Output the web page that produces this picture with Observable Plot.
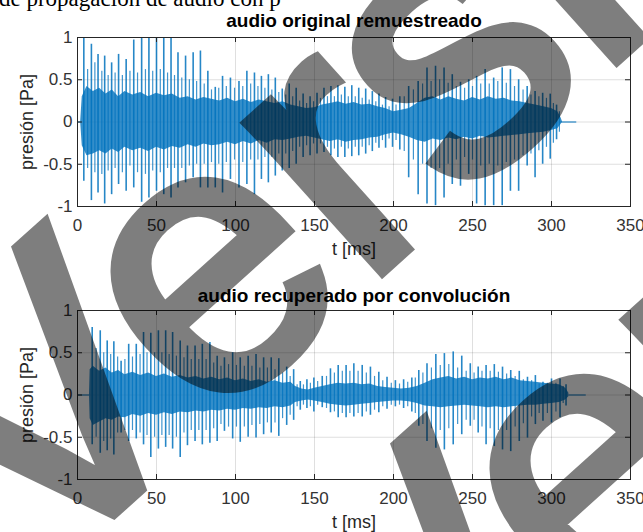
<!DOCTYPE html>
<html>
<head>
<meta charset="utf-8">
<script src="https://cdn.jsdelivr.net/npm/d3@7"></script>
<script src="https://cdn.jsdelivr.net/npm/@observablehq/plot@0.6"></script>
<style>
html, body { margin: 0; padding: 0; background: #fff; }
#page { position: relative; width: 643px; height: 532px; overflow: hidden; background: #fff; }
#top, #bottom { position: absolute; left: 0; }
#top { top: 0; }
#bottom { top: 266px; }
#wm { position: absolute; left: 0; top: 0; pointer-events: none; z-index: 10; }
</style>
</head>
<body>
<div id="page">
  <div id="top"></div>
  <div id="bottom"></div>
  <svg id="wm" width="643" height="532">
    <text x="-1" y="6" font-family="'Liberation Serif','Times New Roman',serif" font-size="23" fill="#000">de propagación de audio con p</text>
    <g opacity="0.5" font-family="'Liberation Sans', Arial, sans-serif" font-size="380" fill="#000" stroke="#000" stroke-width="11" stroke-linejoin="miter">
      <text transform="translate(33,586) rotate(-42)">Versión</text>
      <text transform="translate(412,783) rotate(-42)">Versión</text>
    </g>
  </svg>
</div>
<script>
const xTicks = [0, 50, 100, 150, 200, 250, 300, 350];
const xTickLabels = ["0", "50", "100", "150", "200", "250", "300", "350"];
const yTicks = [-1, -0.5, 0, 0.5, 1];
const yTickLabels = ["-1", "-0.5", "0", "0.5", "1"];
const titles = ["audio original remuestreado", "audio recuperado por convolución"];
const xLabel = "t [ms]";
const yLabel = "presión [Pa]";

// ---- top panel: audio original remuestreado ----
const topPeakT = [4.0,8.8,13.0,17.2,21.6,26.0,30.8,35.6,40.6,45.2,50.0,54.6,59.2,63.6,68.4,73.2,77.8,82.5,87.2,91.8,96.8,102.2,107.2,112.0,116.4,120.8,125.2,129.6,134.0,138.4,142.8,147.2,151.6,156.0,160.4,164.8,169.2,173.6,178.0,182.4,186.6,190.8,195.0,199.4,204.0,209.6,215.6,221.2,226.6,232.0,237.2,242.4,247.6,252.6,258.0,263.4,268.8,274.0,279.2,284.6,289.6,294.4,299.2,303.2];
const topPeakHi = [.99,.92,.80,.78,.70,.80,.74,.97,1.0,1.0,1.0,1.0,1.0,.82,.78,.82,.84,.60,.41,.54,.52,.48,.60,.58,.54,.56,.52,.39,.45,.40,.33,.30,.34,.40,.42,.43,.41,.43,.40,.39,.36,.33,.29,.27,.30,.42,.48,.64,.66,.64,.56,.47,.50,.54,.62,.52,.64,.62,.50,.42,.36,.34,.33,.20];
const topPeakLo = [-.70,-.93,-.84,-.97,-.86,-.74,-.82,-.78,-.95,-.90,-.82,-.86,-.90,-.78,-.72,-.66,-.78,-.78,-.78,-.84,-.68,-.78,-.74,-.86,-.68,-.72,-.64,-.58,-.55,-.50,-.42,-.40,-.38,-.36,-.40,-.42,-.42,-.41,-.40,-.38,-.35,-.31,-.31,-.30,-.33,-.66,-.86,-.97,-.99,-.90,-.74,-.76,-.62,-.97,-.99,-.99,-.99,-.82,-.82,-.52,-.66,-.50,-.44,-.21];
const topMinorT = [6.4,11.0,15.4,19.4,23.8,28.4,33.2,38.0,43.0,47.6,52.4,57.0,61.4,66.0,70.8,75.4,80.2,84.8,89.4,94.2,99.4,104.6,109.6,114.2,118.6,123.0,127.4,131.8,136.2,140.6,145.0,149.4,153.8,158.2,162.6,167.0,171.4,175.8,180.2,184.6,188.8,193.0,197.2,201.6,206.8,212.6,218.4,223.8,229.2,234.6,239.8,245.0,250.0,255.2,260.6,266.0,271.4,276.6,282.0,287.0,292.0,296.8,301.2,305.0];
const topMinorHi = [.62,.70,.60,.55,.58,.55,.60,.58,.62,.60,.62,.58,.55,.52,.50,.48,.45,.38,.40,.42,.40,.42,.45,.42,.40,.38,.35,.32,.30,.25,.22,.24,.28,.30,.30,.32,.30,.30,.28,.26,.24,.20,.18,.20,.30,.38,.45,.48,.50,.46,.42,.40,.42,.45,.45,.48,.46,.42,.38,.32,.30,.28,.22,.12];
const topMinorLo = [-.55,-.60,-.62,-.58,-.55,-.60,-.52,-.60,-.62,-.58,-.60,-.55,-.55,-.55,-.52,-.50,-.50,-.48,-.50,-.48,-.45,-.48,-.45,-.45,-.42,-.42,-.38,-.38,-.35,-.30,-.28,-.26,-.26,-.30,-.32,-.30,-.32,-.30,-.30,-.28,-.25,-.22,-.20,-.22,-.35,-.45,-.50,-.55,-.55,-.50,-.45,-.42,-.45,-.52,-.50,-.52,-.48,-.45,-.40,-.38,-.34,-.30,-.25,-.12];
const topCoreT = [2,3,6,10,14,18,22,26,30,35,40,45,50,55,60,65,70,75,80,85,90,95,100,105,110,115,120,125,130,135,140,145,150,155,160,165,170,175,180,185,190,195,200,205,210,215,220,225,230,235,240,245,250,255,260,265,270,275,280,285,290,295,300,304,306,307];
const topCoreHi = [0,.30,.42,.36,.40,.33,.38,.30,.36,.32,.35,.30,.34,.31,.33,.28,.30,.26,.29,.27,.25,.28,.24,.27,.23,.26,.24,.22,.24,.20,.18,.16,.17,.20,.22,.24,.21,.23,.20,.21,.18,.16,.12,.14,.16,.22,.28,.30,.26,.30,.27,.25,.29,.26,.30,.27,.28,.25,.24,.22,.20,.18,.16,.12,.05,0];
const topCoreLo = [0,-.28,-.40,-.38,-.34,-.38,-.32,-.36,-.30,-.34,-.31,-.35,-.30,-.33,-.29,-.31,-.27,-.30,-.26,-.28,-.27,-.24,-.27,-.23,-.26,-.22,-.25,-.21,-.22,-.20,-.18,-.17,-.19,-.21,-.23,-.21,-.24,-.22,-.21,-.19,-.18,-.15,-.13,-.15,-.18,-.22,-.24,-.20,-.22,-.19,-.21,-.18,-.20,-.17,-.19,-.18,-.17,-.16,-.15,-.14,-.13,-.12,-.10,-.08,-.03,0];
const topSilFrom = [0, 306];
const topSilTo = [2.5, 316];

// ---- bottom panel: audio recuperado por convolución ----
const botPeakT = [9.3,14.4,18.8,23.0,27.6,32.4,37.2,41.8,46.4,51.2,55.8,60.2,65.0,69.6,74.4,79.0,83.8,88.4,93.0,98.2,103.0,108.0,113.0,117.8,122.6,127.4,132.4,136.8,141.0,145.2,149.6,154.9,160.1,165.0,170.0,174.9,180.2,185.4,190.7,195.9,201.2,206.4,211.6,216.0,221.2,226.8,232.2,237.8,243.2,248.6,253.6,258.6,263.8,269.0,274.2,279.6,284.8,289.8,294.6,300.0,305.4,309.2];
const botPeakHi = [.80,.76,.64,.63,.40,.60,.60,.74,.73,.76,.76,.74,.64,.58,.58,.60,.62,.46,.44,.50,.44,.46,.48,.44,.44,.43,.33,.30,.16,.18,.20,.22,.31,.35,.35,.37,.35,.33,.27,.21,.17,.18,.20,.29,.37,.48,.49,.51,.46,.37,.33,.35,.36,.33,.29,.28,.21,.23,.15,.19,.19,.12];
const botPeakLo = [-.59,-.69,-.66,-.71,-.45,-.55,-.52,-.59,-.74,-.64,-.62,-.64,-.74,-.60,-.55,-.59,-.57,-.55,-.43,-.52,-.56,-.50,-.51,-.47,-.45,-.49,-.36,-.30,-.18,-.16,-.20,-.15,-.21,-.27,-.27,-.26,-.26,-.24,-.21,-.17,-.14,-.16,-.20,-.37,-.55,-.63,-.65,-.59,-.47,-.37,-.45,-.59,-.61,-.65,-.67,-.55,-.51,-.35,-.31,-.33,-.27,-.13];
const botMinorT = [11.8,16.6,21.0,25.4,30.0,34.8,39.6,44.0,48.8,53.4,58.0,62.6,67.4,72.0,76.8,81.4,86.2,90.8,95.6,100.6,105.6,110.4,115.4,120.2,125.0,129.8,134.6,139.0,143.0,147.4,152.0,157.6,162.6,167.6,172.4,177.6,182.8,188.0,193.2,198.6,203.8,209.0,213.8,218.6,224.0,229.6,235.0,240.6,246.0,251.0,256.0,261.2,266.4,271.6,277.0,282.2,287.4,292.2,297.4,302.8,307.4];
const botMinorHi = [.55,.50,.48,.45,.42,.45,.48,.50,.50,.50,.48,.46,.44,.42,.42,.42,.38,.34,.36,.35,.34,.34,.32,.32,.30,.26,.22,.12,.12,.14,.16,.22,.26,.28,.28,.28,.26,.22,.17,.14,.13,.15,.20,.26,.32,.35,.36,.32,.28,.26,.28,.28,.27,.25,.22,.18,.17,.13,.14,.14,.10];
const botMinorLo = [-.50,-.55,-.52,-.45,-.42,-.42,-.45,-.48,-.50,-.48,-.48,-.50,-.45,-.42,-.42,-.42,-.40,-.35,-.38,-.38,-.38,-.36,-.35,-.33,-.33,-.28,-.24,-.14,-.12,-.14,-.12,-.16,-.20,-.22,-.22,-.22,-.20,-.18,-.14,-.12,-.12,-.14,-.22,-.35,-.40,-.42,-.40,-.35,-.30,-.30,-.38,-.40,-.42,-.42,-.38,-.34,-.26,-.22,-.22,-.20,-.10];
const botCoreT = [7.6,8,10,14,18,22,26,30,35,40,45,50,55,60,65,70,75,80,85,90,95,100,105,110,115,120,125,130,135,138,142,146,150,155,160,165,170,175,180,185,190,195,200,205,210,215,220,225,230,235,240,245,250,255,260,265,270,275,280,285,290,295,300,305,309,311];
const botCoreHi = [0,.30,.34,.28,.32,.26,.29,.24,.27,.23,.26,.22,.25,.21,.23,.20,.22,.19,.21,.18,.20,.17,.19,.16,.18,.15,.17,.14,.15,.10,.07,.06,.08,.10,.12,.14,.13,.14,.12,.13,.10,.09,.08,.07,.08,.10,.14,.18,.20,.22,.19,.21,.18,.20,.19,.21,.18,.20,.17,.16,.15,.14,.13,.12,.08,.02];
const botCoreLo = [0,-.28,-.36,-.32,-.28,-.30,-.26,-.27,-.23,-.25,-.22,-.24,-.21,-.23,-.20,-.21,-.19,-.20,-.18,-.19,-.17,-.18,-.16,-.17,-.15,-.16,-.14,-.15,-.13,-.09,-.07,-.06,-.07,-.09,-.11,-.12,-.13,-.12,-.11,-.10,-.09,-.08,-.07,-.07,-.08,-.10,-.13,-.14,-.15,-.14,-.13,-.12,-.13,-.14,-.15,-.14,-.15,-.14,-.13,-.12,-.12,-.11,-.10,-.09,-.06,-.02];
const botSilFrom = [0, 311];
const botSilTo = [7.6, 322];

const blue = "#0072BD";
const ink = "#262626";
const plotW = 553, plotH = 169;

function rows(T, hi, lo) { return T.map((t, i) => ({t, hi: hi[i], lo: lo[i]})); }

function panel(o) {
  const peaks = rows(o.peakT, o.peakHi, o.peakLo);
  const minors = rows(o.minorT, o.minorHi, o.minorLo);
  const core = rows(o.coreT, o.coreHi, o.coreLo);
  const sil = o.silFrom.map((a, i) => ({a, b: o.silTo[i]}));
  return Plot.plot({
    width: 643,
    height: o.height,
    marginTop: o.marginTop,
    marginBottom: o.height - o.marginTop - plotH,
    marginLeft: 77,
    marginRight: 13,
    style: {fontFamily: "'Liberation Sans', Arial, Helvetica, sans-serif", fontSize: "17px", color: ink, background: "transparent", overflow: "visible"},
    x: {domain: [0, 350]},
    y: {domain: [-1, 1]},
    marks: [
      Plot.gridX(xTicks, {stroke: ink, strokeOpacity: 0.15}),
      Plot.gridY(yTicks, {stroke: ink, strokeOpacity: 0.15}),
      Plot.areaY(core, {x: "t", y1: "lo", y2: "hi", fill: blue, fillOpacity: 0.8}),
      Plot.ruleX(minors, {x: "t", y1: "lo", y2: "hi", stroke: blue, strokeWidth: 1.2, strokeOpacity: 0.75}),
      Plot.ruleX(peaks, {x: "t", y1: "lo", y2: "hi", stroke: blue, strokeWidth: 1.6, strokeOpacity: 0.85}),
      Plot.ruleY(sil, {y: 0, x1: "a", x2: "b", stroke: blue, strokeWidth: 1}),
      Plot.frame({stroke: ink}),
      Plot.ruleX(xTicks, {stroke: ink, insetTop: plotH - 5}),
      Plot.ruleX(xTicks, {stroke: ink, insetBottom: plotH - 5}),
      Plot.ruleY(yTicks, {stroke: ink, insetRight: plotW - 5}),
      Plot.ruleY(yTicks, {stroke: ink, insetLeft: plotW - 5}),
      Plot.axisX(xTicks, {tickSize: 0, tickPadding: 12, label: null, fill: "#333", tickFormat: d => xTickLabels[xTicks.indexOf(d)]}),
      Plot.axisY(yTicks, {tickSize: 0, tickPadding: 5, label: null, fill: "#333", tickFormat: d => yTickLabels[yTicks.indexOf(d)]}),
      Plot.text([o.title], {text: d => d, frameAnchor: "top", lineAnchor: "middle", textAnchor: "middle", dy: o.titleDy, fontWeight: "bold", fontSize: 19, fill: "#000"}),
      Plot.text([xLabel], {text: d => d, frameAnchor: "bottom", lineAnchor: "middle", textAnchor: "middle", dy: o.xLabelDy, fontSize: 18, fill: ink}),
      Plot.text([yLabel], {text: d => d, frameAnchor: "left", lineAnchor: "middle", textAnchor: "middle", dx: -50, rotate: -90, fontSize: 18, fill: ink})
    ]
  });
}

document.getElementById("top").append(panel({
  title: titles[0], height: 266, marginTop: 37, titleDy: -17, xLabelDy: 43,
  peakT: topPeakT, peakHi: topPeakHi, peakLo: topPeakLo,
  minorT: topMinorT, minorHi: topMinorHi, minorLo: topMinorLo,
  coreT: topCoreT, coreHi: topCoreHi, coreLo: topCoreLo,
  silFrom: topSilFrom, silTo: topSilTo
}));
document.getElementById("bottom").append(panel({
  title: titles[1], height: 266, marginTop: 44, titleDy: -15, xLabelDy: 43,
  peakT: botPeakT, peakHi: botPeakHi, peakLo: botPeakLo,
  minorT: botMinorT, minorHi: botMinorHi, minorLo: botMinorLo,
  coreT: botCoreT, coreHi: botCoreHi, coreLo: botCoreLo,
  silFrom: botSilFrom, silTo: botSilTo
}));
</script>
</body>
</html>
